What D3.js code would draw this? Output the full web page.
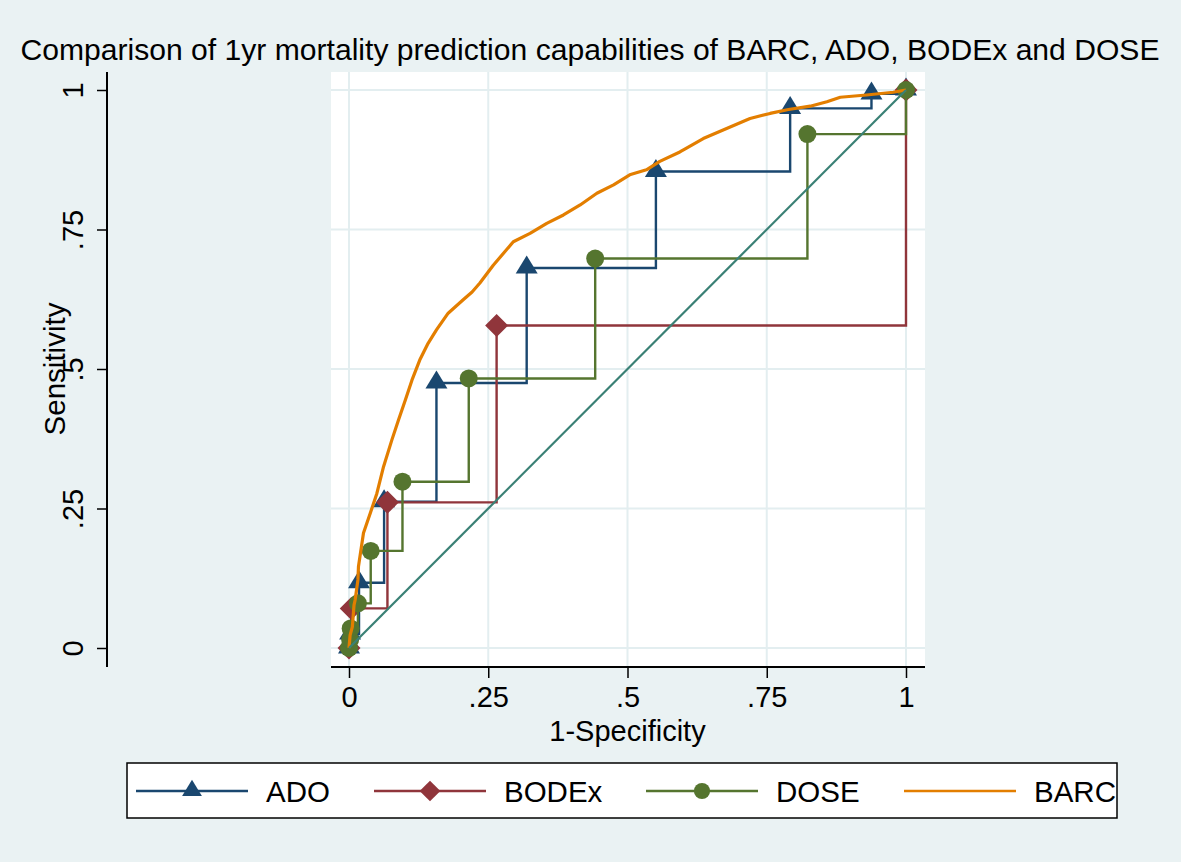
<!DOCTYPE html>
<html>
<head>
<meta charset="utf-8">
<script src="https://cdn.jsdelivr.net/npm/d3@7"></script>
<style>
  html, body { margin: 0; padding: 0; background: #eaf2f3; }
  svg { display: block; }
  text { font-family: "Liberation Sans", Arial, sans-serif; fill: #000; }
</style>
</head>
<body>
<svg id="chart" width="1181" height="862"></svg>
<script>
// ---------- data ----------
const ADO_x   = [0, 0.002, 0.018, 0.063, 0.157, 0.319, 0.551, 0.792, 0.938, 1];
const ADO_y   = [0, 0.025, 0.117, 0.262, 0.475, 0.681, 0.854, 0.967, 0.993, 1];

const BODEx_x = [0, 0.004, 0.069, 0.265, 1];
const BODEx_y = [0, 0.071, 0.261, 0.578, 1];

const DOSE_x  = [0, 0.002, 0.003, 0.016, 0.039, 0.096, 0.215, 0.442, 0.823, 1];
const DOSE_y  = [0, 0.015, 0.035, 0.080, 0.174, 0.298, 0.483, 0.698, 0.921, 1];

const BARC_x  = [0, 0.002, 0.006, 0.009, 0.011, 0.016, 0.017, 0.026, 0.038, 0.050, 0.062, 0.077, 0.089, 0.101, 0.113, 0.127, 0.142, 0.157, 0.178, 0.205, 0.221, 0.235, 0.259, 0.295, 0.325, 0.355, 0.385, 0.415, 0.445, 0.475, 0.504, 0.534, 0.558, 0.594, 0.606, 0.636, 0.678, 0.720, 0.756, 0.789, 0.828, 0.858, 0.882, 0.929, 0.977, 1];
const BARC_y  = [0, 0.023, 0.038, 0.077, 0.086, 0.122, 0.146, 0.206, 0.241, 0.277, 0.325, 0.373, 0.409, 0.444, 0.480, 0.516, 0.546, 0.570, 0.600, 0.624, 0.638, 0.654, 0.686, 0.728, 0.743, 0.761, 0.776, 0.794, 0.815, 0.830, 0.848, 0.857, 0.872, 0.889, 0.896, 0.913, 0.931, 0.949, 0.958, 0.965, 0.971, 0.979, 0.987, 0.991, 0.996, 1];

const REF_x = [0, 1];
const REF_y = [0, 1];

const tickValues = [0, 0.25, 0.5, 0.75, 1];
const tickLabels = ["0", ".25", ".5", ".75", "1"];

const seriesNames = ["ADO", "BODEx", "DOSE", "BARC"];
const titleText = "Comparison of 1yr mortality prediction capabilities of BARC, ADO, BODEx and DOSE";

// ---------- styling ----------
const C = { ADO: "#1a476f", BODEx: "#90353b", DOSE: "#55752f", BARC: "#e37e00", REF: "#3a8075" };
const FONT = 29;

const svg = d3.select("#chart");
const W = 1181, H = 862;

svg.append("rect").attr("width", W).attr("height", H).attr("fill", "#eaf2f3");

const x = d3.scaleLinear().domain([0, 1]).range([349, 906]);
const y = d3.scaleLinear().domain([0, 1]).range([648, 90]);

const plotL = 331, plotR = 925, plotT = 72, plotB = 667;

// plot region
svg.append("rect").attr("x", plotL).attr("y", plotT).attr("width", plotR - plotL).attr("height", plotB - plotT).attr("fill", "#fff");

// grid
const grid = svg.append("g").attr("stroke", "#e3eef0").attr("stroke-width", 2);
tickValues.forEach(t => {
  grid.append("line").attr("x1", x(t)).attr("x2", x(t)).attr("y1", plotT).attr("y2", plotB);
  grid.append("line").attr("x1", plotL).attr("x2", plotR).attr("y1", y(t)).attr("y2", y(t));
});

// x axis
const fmt = d => tickLabels[tickValues.indexOf(d)];
const xAxis = svg.append("g").attr("transform", `translate(0,${plotB})`)
  .call(d3.axisBottom(x).tickValues(tickValues).tickFormat(fmt).tickSize(11).tickSizeOuter(0).tickPadding(8));
xAxis.select(".domain").remove();
xAxis.selectAll(".tick line").attr("stroke", "#000").attr("stroke-width", 1.5);
xAxis.selectAll(".tick text").attr("font-size", FONT).attr("font-family", "Liberation Sans, Arial, sans-serif").attr("fill", "#000").attr("dy", "0.71em");
svg.append("line").attr("x1", plotL).attr("x2", plotR).attr("y1", plotB).attr("y2", plotB).attr("stroke", "#000").attr("stroke-width", 2);
svg.append("text").attr("x", (x(0) + x(1)) / 2).attr("y", 741).attr("text-anchor", "middle").attr("font-size", FONT).text("1-Specificity");

// y axis
const axX = 107;
const yAxis = svg.append("g").attr("transform", `translate(${axX},0)`)
  .call(d3.axisLeft(y).tickValues(tickValues).tickFormat(fmt).tickSize(10).tickSizeOuter(0));
yAxis.select(".domain").remove();
yAxis.selectAll(".tick line").attr("stroke", "#000").attr("stroke-width", 1.5);
yAxis.selectAll(".tick text")
  .attr("font-size", FONT).attr("font-family", "Liberation Sans, Arial, sans-serif").attr("fill", "#000")
  .attr("x", 0).attr("dy", 0).attr("text-anchor", "middle")
  .attr("transform", "translate(-24,0) rotate(-90)");
svg.append("line").attr("x1", axX).attr("x2", axX).attr("y1", plotT).attr("y2", plotB).attr("stroke", "#000").attr("stroke-width", 2);
svg.append("text").attr("transform", `translate(65,369) rotate(-90)`).attr("text-anchor", "middle").attr("font-size", 29.5).text("Sensitivity");

// title
svg.append("text").attr("x", 590).attr("y", 60).attr("text-anchor", "middle").attr("font-size", 30.1).text(titleText);

// markers
const sym = {
  ADO: "M0,-12.5L11,5.5L-11,5.5Z",
  BODEx: "M0,-11.5L11.5,0L0,11.5L-11.5,0Z",
  DOSE: d3.symbol().type(d3.symbolCircle).size(Math.PI * 9 * 9)()
};

function drawSeries(name, xs, ys) {
  const pts = xs.map((v, i) => [v, ys[i]]);
  const line = d3.line().x(d => x(d[0])).y(d => y(d[1])).curve(d3.curveStepAfter);
  const g = svg.append("g");
  g.append("path").attr("d", line(pts)).attr("fill", "none").attr("stroke", C[name]).attr("stroke-width", 2.4);
  g.selectAll("path.m").data(pts).enter().append("path").attr("class", "m")
    .attr("d", sym[name]).attr("fill", C[name])
    .attr("transform", d => `translate(${x(d[0])},${y(d[1])})`);
}
drawSeries("ADO", ADO_x, ADO_y);
drawSeries("BODEx", BODEx_x, BODEx_y);
drawSeries("DOSE", DOSE_x, DOSE_y);

const barcPts = BARC_x.map((v, i) => [v, BARC_y[i]]);
svg.append("path").attr("d", d3.line().x(d => x(d[0])).y(d => y(d[1]))(barcPts))
  .attr("fill", "none").attr("stroke", C.BARC).attr("stroke-width", 3.2).attr("stroke-linejoin", "round");

svg.append("path").attr("d", d3.line().x(d => x(d[0])).y(d => y(d[1]))(REF_x.map((v, i) => [v, REF_y[i]])))
  .attr("fill", "none").attr("stroke", C.REF).attr("stroke-width", 2.2);

// legend
const lg = svg.append("g");
lg.append("rect").attr("x", 127).attr("y", 763).attr("width", 990).attr("height", 55).attr("fill", "#fff").attr("stroke", "#000").attr("stroke-width", 1.5);
const legX = [136, 374, 646, 904];
seriesNames.forEach((name, i) => {
  const x0 = legX[i], cy = 791;
  lg.append("line").attr("x1", x0).attr("x2", x0 + 112).attr("y1", cy).attr("y2", cy).attr("stroke", C[name]).attr("stroke-width", 2.6);
  if (sym[name]) {
    lg.append("path").attr("d", sym[name]).attr("fill", C[name]).attr("transform", `translate(${x0 + 56},${cy}) scale(0.9)`);
  }
  lg.append("text").attr("x", x0 + 130).attr("y", cy + 11).attr("font-size", 29.5).text(name);
});
</script>
</body>
</html>
